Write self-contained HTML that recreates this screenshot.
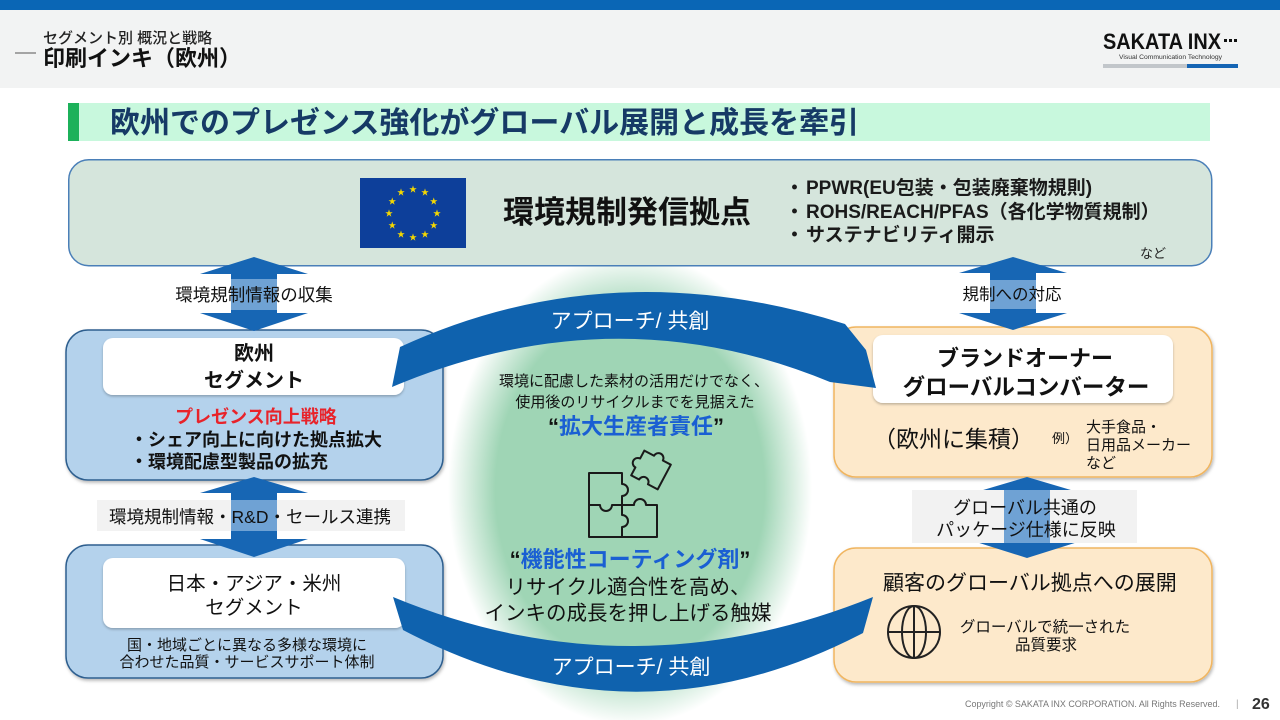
<!DOCTYPE html>
<html>
<head>
<meta charset="utf-8">
<style>
html,body{margin:0;padding:0;background:#fff;}
svg{display:block;}
text{font-family:"Liberation Sans","Noto Sans CJK JP",sans-serif;}
</style>
</head>
<body>
<svg width="1280" height="720" viewBox="0 0 1280 720" xmlns="http://www.w3.org/2000/svg">
<defs>
  <filter id="sh" x="-5%" y="-5%" width="112%" height="120%">
    <feDropShadow dx="1" dy="2" stdDeviation="1.5" flood-color="#000" flood-opacity="0.28"/>
  </filter>
  <filter id="sh2" x="-5%" y="-10%" width="112%" height="130%">
    <feDropShadow dx="0" dy="1.5" stdDeviation="1.2" flood-color="#000" flood-opacity="0.25"/>
  </filter>
  <radialGradient id="glow" cx="0.5" cy="0.5" r="0.5">
    <stop offset="0.74" stop-color="#9fd5b5"/>
    <stop offset="1" stop-color="#9fd5b5" stop-opacity="0"/>
  </radialGradient>
</defs>

<!-- background / header -->
<rect x="0" y="0" width="1280" height="720" fill="#ffffff"/>
<rect x="0" y="0" width="1280" height="10" fill="#0a66b5"/>
<rect x="0" y="10" width="1280" height="78" fill="#f2f3f3"/>
<line x1="15" y1="53" x2="36" y2="53" stroke="#555" stroke-width="1"/>
<text x="43" y="43" font-size="15" font-weight="500" fill="#222">セグメント別 概況と戦略</text>
<text x="43" y="66" font-size="22" font-weight="bold" fill="#111">印刷インキ（欧州）</text>

<!-- logo -->
<text x="1103" y="49" font-size="22" font-weight="bold" fill="#111" textLength="118" lengthAdjust="spacingAndGlyphs">SAKATA INX</text>
<rect x="1224" y="39" width="3" height="3" fill="#111"/>
<rect x="1229" y="39" width="3" height="3" fill="#111"/>
<rect x="1234" y="39" width="3" height="3" fill="#111"/>
<text x="1119" y="59" font-size="6.5" fill="#333" textLength="103" lengthAdjust="spacingAndGlyphs">Visual Communication Technology</text>
<rect x="1103" y="64" width="84" height="4" fill="#c2c6ca"/>
<rect x="1187" y="64" width="51" height="4" fill="#1565b4"/>

<!-- title bar -->
<rect x="68" y="103" width="1142" height="38" fill="#c8f8dd"/>
<rect x="68" y="103" width="11" height="38" fill="#1cb15a"/>
<text x="110" y="133" font-size="30" font-weight="bold" fill="#163a66">欧州でのプレゼンス強化がグローバル展開と成長を牽引</text>

<!-- green glow -->
<ellipse cx="630" cy="489" rx="182" ry="236" fill="url(#glow)"/>

<!-- top box -->
<rect x="68.75" y="159.75" width="1143" height="106" rx="20" fill="#d5e5dc" stroke="#4a7fb8" stroke-width="1.5"/>
<rect x="360" y="178" width="106" height="70" fill="#0d3f9a"/>
<g font-size="8" fill="#f5d800" text-anchor="middle" font-family="DejaVu Sans, sans-serif">
  <text x="413" y="192">★</text>
  <text x="425" y="195.2">★</text>
  <text x="433.8" y="204">★</text>
  <text x="437" y="216">★</text>
  <text x="433.8" y="228">★</text>
  <text x="425" y="236.8">★</text>
  <text x="413" y="240">★</text>
  <text x="401" y="236.8">★</text>
  <text x="392.2" y="228">★</text>
  <text x="389" y="216">★</text>
  <text x="392.2" y="204">★</text>
  <text x="401" y="195.2">★</text>
</g>
<text x="503" y="223" font-size="31" font-weight="bold" fill="#111">環境規制発信拠点</text>
<g font-size="19" font-weight="bold" fill="#1a1a1a">
  <text x="785" y="194">・</text><text x="806" y="194">PPWR(EU包装・包装廃棄物規則)</text>
  <text x="785" y="218">・</text><text x="806" y="218">ROHS/REACH/PFAS（各化学物質規制）</text>
  <text x="785" y="241">・</text><text x="806" y="241">サステナビリティ開示</text>
</g>
<text x="1140" y="258" font-size="13" fill="#222">など</text>

<!-- left boxes -->
<rect x="66" y="330" width="377" height="150" rx="22" fill="#b4d2ec" stroke="#2f5f8f" stroke-width="1.5" filter="url(#sh)"/>
<rect x="103" y="338" width="301" height="57" rx="10" fill="#ffffff" filter="url(#sh2)"/>
<text x="254" y="360" font-size="20" font-weight="bold" fill="#111" text-anchor="middle">欧州</text>
<text x="254" y="387" font-size="20" font-weight="bold" fill="#111" text-anchor="middle">セグメント</text>
<text x="256" y="423" font-size="18" font-weight="bold" fill="#e8232a" text-anchor="middle">プレゼンス向上戦略</text>
<text x="130" y="446" font-size="18" font-weight="bold" fill="#111">・シェア向上に向けた拠点拡大</text>
<text x="130" y="468" font-size="18" font-weight="bold" fill="#111">・環境配慮型製品の拡充</text>

<rect x="66" y="545" width="377" height="133" rx="22" fill="#b4d2ec" stroke="#2f5f8f" stroke-width="1.5" filter="url(#sh)"/>
<rect x="103" y="558" width="302" height="70" rx="10" fill="#ffffff" filter="url(#sh2)"/>
<text x="254" y="590" font-size="19.5" fill="#111" text-anchor="middle">日本・アジア・米州</text>
<text x="254" y="614" font-size="19.5" fill="#111" text-anchor="middle">セグメント</text>
<text x="247" y="650" font-size="15" fill="#111" text-anchor="middle">国・地域ごとに異なる多様な環境に</text>
<text x="247" y="667" font-size="15" fill="#111" text-anchor="middle">合わせた品質・サービスサポート体制</text>

<!-- right boxes -->
<rect x="834" y="327" width="378" height="150" rx="22" fill="#fde9cb" stroke="#f0b560" stroke-width="1.5" filter="url(#sh)"/>
<rect x="873" y="335" width="300" height="68" rx="10" fill="#ffffff" filter="url(#sh2)"/>
<text x="1025" y="366" font-size="22" font-weight="bold" fill="#111" text-anchor="middle">ブランドオーナー</text>
<text x="1026" y="395" font-size="22.5" font-weight="bold" fill="#111" text-anchor="middle">グローバルコンバーター</text>
<text x="873" y="447" font-size="23" fill="#111">（欧州に集積）</text>
<text x="1052" y="443" font-size="13" fill="#111">例）</text>
<text x="1086" y="432" font-size="15" fill="#111">大手食品・</text>
<text x="1086" y="450" font-size="15" fill="#111">日用品メーカー</text>
<text x="1086" y="468" font-size="15" fill="#111">など</text>

<rect x="834" y="548" width="378" height="134" rx="22" fill="#fde9cb" stroke="#f0b560" stroke-width="1.5" filter="url(#sh)"/>
<text x="883" y="590" font-size="21" fill="#111">顧客のグローバル拠点への展開</text>
<g fill="none" stroke="#222" stroke-width="2">
  <circle cx="914" cy="632" r="26"/>
  <ellipse cx="914" cy="632" rx="12" ry="26"/>
  <line x1="914" y1="606" x2="914" y2="658"/>
  <line x1="888" y1="632" x2="940" y2="632"/>
</g>
<text x="1045" y="632" font-size="15.5" fill="#111" text-anchor="middle">グローバルで統一された</text>
<text x="1046" y="650" font-size="15.5" fill="#111" text-anchor="middle">品質要求</text>

<!-- arcs -->
<path d="M400,347 Q610,250 845,324 L866,350 L876,388 L830,382 Q615,293 392,387 Z" fill="#0f62ae"/>
<path d="M393,597 Q630,695 873,597 L863,633 Q635,752 403,630 Z" fill="#0f62ae"/>
<text x="630" y="328" font-size="21" fill="#ffffff" text-anchor="middle">アプローチ/ 共創</text>
<text x="631" y="674" font-size="21" fill="#ffffff" text-anchor="middle">アプローチ/ 共創</text>

<!-- center texts -->
<text x="634" y="386" font-size="15" fill="#111" text-anchor="middle">環境に配慮した素材の活用だけでなく、</text>
<text x="635" y="407" font-size="15" fill="#111" text-anchor="middle">使用後のリサイクルまでを見据えた</text>
<text x="636" y="434" font-size="22" font-weight="bold" text-anchor="middle"><tspan fill="#111">“</tspan><tspan fill="#1a5fd3">拡大生産者責任</tspan><tspan fill="#111">”</tspan></text>

<!-- puzzle icon -->
<g fill="none" stroke="#1a1a1a" stroke-width="2" stroke-linejoin="round">
  <path d="M589,473 H622 V484 A6,6 0 0 1 622,496 V505 H634 A6,6 0 0 1 646,505 H657 V537 H589 Z"/>
  <path d="M589,505 H600 A6,6 0 0 0 612,505 H622"/>
  <path d="M622,505 V515 A6,6 0 0 1 622,527 V537"/>
  <g transform="translate(651,470) rotate(28)">
    <path d="M-15,-14 H-4 A5,5 0 0 1 6,-14 H15 V14 H4 A5,5 0 0 0 -6,14 H-15 V5 A5,5 0 0 1 -15,-5 Z"/>
  </g>
</g>

<text x="630" y="567" font-size="22" font-weight="bold" text-anchor="middle"><tspan fill="#111">“</tspan><tspan fill="#1a5fd3">機能性コーティング剤</tspan><tspan fill="#111">”</tspan></text>
<text x="628" y="594" font-size="20.5" fill="#111" text-anchor="middle">リサイクル適合性を高め、</text>
<text x="628" y="620" font-size="20.5" fill="#111" text-anchor="middle">インキの成長を押し上げる触媒</text>

<!-- double arrows -->
<g fill="#1766b4">
  <path d="M254,257 L308,274 L277,274 L277,313 L308,313 L254,331 L200,313 L231,313 L231,274 L200,274 Z"/>
  <path d="M254,477 L308,493 L277,493 L277,539 L308,539 L254,557 L200,539 L231,539 L231,493 L200,493 Z"/>
  <path d="M1013,257 L1067,273 L1036,273 L1036,313 L1067,313 L1013,330 L959,313 L990,313 L990,273 L959,273 Z"/>
  <path d="M1027,477 L1081,493 L1050,493 L1050,541 L1081,541 L1027,558 L973,541 L1004,541 L1004,493 L973,493 Z"/>
</g>

<!-- arrow labels -->
<rect x="231" y="279" width="46" height="31" fill="#6fa2d4"/>
<text x="254" y="301" font-size="17.5" fill="#111" text-anchor="middle">環境規制情報の収集</text>

<rect x="990" y="280" width="46" height="29" fill="#6fa2d4"/>
<text x="1012" y="300" font-size="16.5" fill="#111" text-anchor="middle">規制への対応</text>

<rect x="97" y="500" width="308" height="31" fill="#f2f2f2"/>
<rect x="231" y="500" width="46" height="31" fill="#6fa2d4"/>
<text x="250" y="523" font-size="17.5" fill="#111" text-anchor="middle">環境規制情報・R&amp;D・セールス連携</text>

<rect x="912" y="490" width="225" height="53" fill="#f2f2f2"/>
<rect x="1004" y="490" width="46" height="53" fill="#6fa2d4"/>
<text x="1025" y="514" font-size="18" fill="#111" text-anchor="middle">グローバル共通の</text>
<text x="1026" y="536" font-size="18" fill="#111" text-anchor="middle">パッケージ仕様に反映</text>

<!-- footer -->
<text x="965" y="707" font-size="9" fill="#777" textLength="255" lengthAdjust="spacingAndGlyphs">Copyright © SAKATA INX CORPORATION. All Rights Reserved.</text>
<text x="1236" y="707" font-size="10" fill="#aaa">|</text>
<text x="1252" y="709" font-size="16" font-weight="bold" fill="#333">26</text>
</svg>
</body>
</html>
